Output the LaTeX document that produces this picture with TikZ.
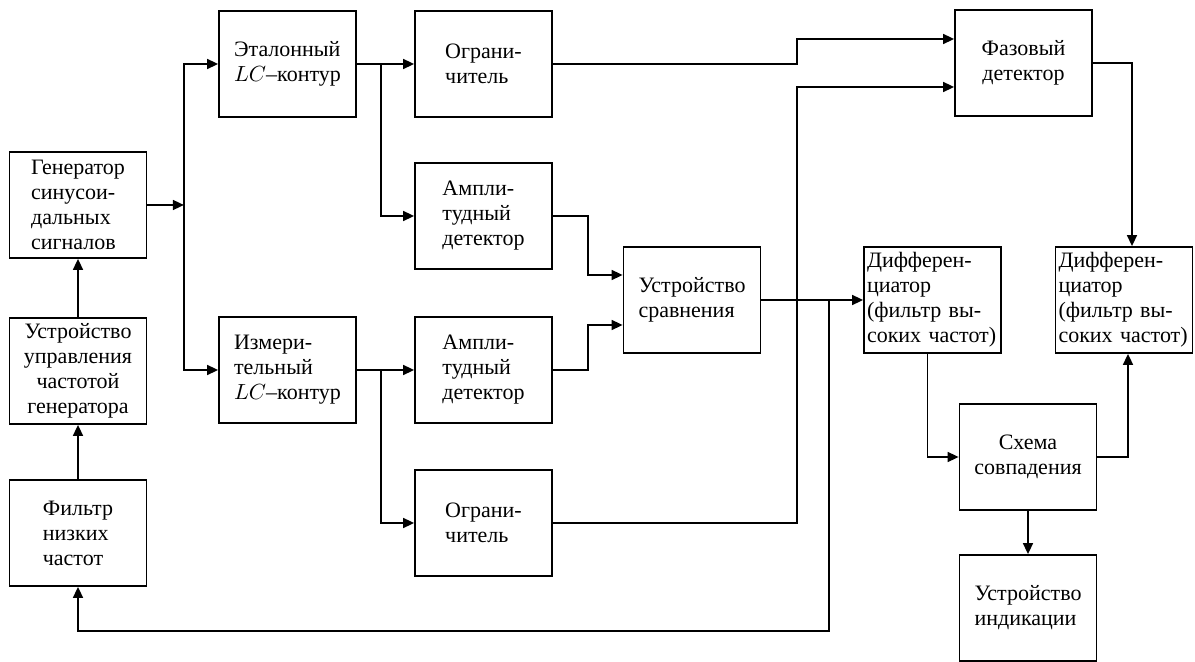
\documentclass[tikz,border=0pt]{standalone}
\usepackage{fontspec}
\setmainfont{Liberation Serif}
\usetikzlibrary{arrows.meta,positioning,calc}

\begin{document}
\begin{tikzpicture}[x=0.5pt,y=-0.5pt,font=\fontsize{11}{12.5}\selectfont,
  box/.style={rectangle, draw, line width=0.9pt, minimum width=68.5pt, minimum height=53pt, align=left, inner sep=2pt},
  cbox/.style={box, align=center},
  dbox/.style={box, text width=65.5pt, inner xsep=1.5pt, inner ysep=1pt},
  arr/.style={-{Triangle[length=5.5pt,width=5pt]}, line width=0.8pt}]
\useasboundingbox (0,0) rectangle (1195,662);
% left column
\node[box] (gen) at (78,205) {Генератор\\синусои-\\дальных\\сигналов};
\node[cbox] (upr) at (78,371) {Устройство\\управления\\частотой\\генератора};
\node[box] (flt) at (78,533) {Фильтр\\низких\\частот};
% LC circuits and their branches
\node[box] (etal) at (287.5,64) {Эталонный\\$LC$–контур};
\node[box] (izm) at (287.5,370) {Измери-\\тельный\\$LC$–контур};
\node[box] (ogra) at (483.5,64) {Ограни-\\читель};
\node[box] (ampa) at (483.5,216) {Ампли-\\тудный\\детектор};
\node[box] (ampb) at (483.5,370) {Ампли-\\тудный\\детектор};
\node[box] (ogrb) at (483.5,523) {Ограни-\\читель};
\node[box] (comp) at (692,300) {Устройство\\сравнения};
% right part
\node[cbox] (phd) at (1023.5,63) {Фазовый\\детектор};
\node[dbox] (difa) at (932.5,300) {Дифферен-\\циатор\\(фильтр вы-\\соких частот)};
\node[dbox] (difb) at (1124,300) {Дифферен-\\циатор\\(фильтр вы-\\соких частот)};
\node[cbox] (coin) at (1028,457) {Схема\\совпадения};
\node[box] (ind) at (1028,608) {Устройство\\индикации};
\coordinate (split) at ($(gen.east)+(36.5,0)$);
\coordinate (jog) at (797,0);
\coordinate (fb) at (829,631);
\draw[arr] (gen) -- (split);
\draw[arr] (split) |- (etal);
\draw[arr] (split) |- (izm);
\draw[arr] (flt) -- (upr);
\draw[arr] (upr) -- (gen);
\draw[arr] (etal) -- (ogra);
\draw[arr] ($(etal.east)!0.42!(ogra.west)$) |- (ampa);
\draw[arr] (izm) -- (ampb);
\draw[arr] ($(izm.east)!0.42!(ampb.west)$) |- (ogrb);
\draw[arr] (ampa.east) -- ++(35,0) |- ([yshift=12.5pt]comp.west);
\draw[arr] (ampb.east) -- ++(35,0) |- ([yshift=-12.5pt]comp.west);
\draw[arr] (ogra.east) -- (ogra.east -| jog) |- ([yshift=12pt]phd.west);
\draw[arr] (ogrb.east) -- (ogrb.east -| jog) |- ([yshift=-12pt]phd.west);
\draw[arr] (comp.east) -- (comp.east -| difa.west);
\draw[arr] (comp.east -| fb) -- (fb) -| (flt.south);
\draw[arr] (phd.east) -| ([xshift=4pt]difb.north);
\draw[arr] ([xshift=-2.5pt]difa.south) |- (coin.west);
\draw[arr] (coin.east) -| ([xshift=2pt]difb.south);
\draw[arr] (coin) -- (ind);
\end{tikzpicture}
\end{document}
